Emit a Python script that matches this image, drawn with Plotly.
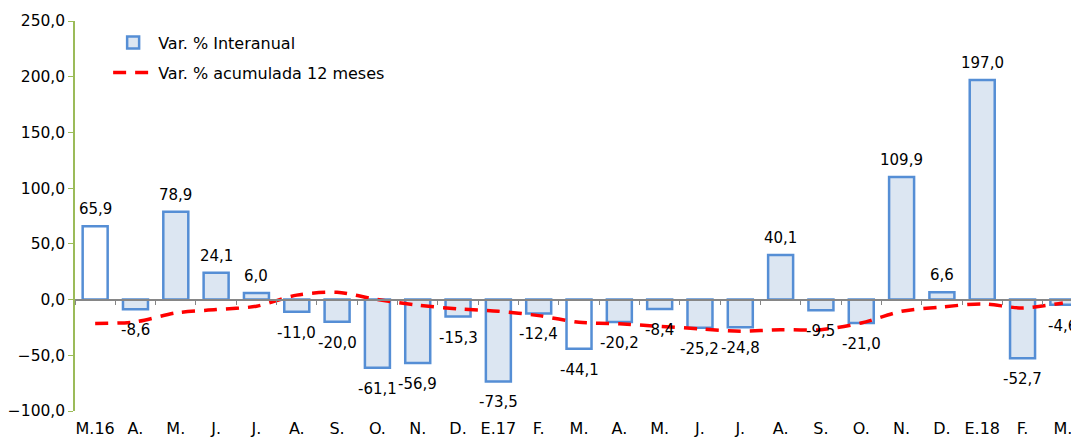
import plotly.graph_objects as go

categories = ["M.16", "A.", "M.", "J.", "J.", "A.", "S.", "O.", "N.", "D.", "E.17", "F.",
              "M.", "A.", "M.", "J.", "J.", "A.", "S.", "O.", "N.", "D.", "E.18", "F.", "M."]
interanual = [65.9, -8.6, 78.9, 24.1, 6.0, -11.0, -20.0, -61.1, -56.9, -15.3, -73.5, -12.4,
              -44.1, -20.2, -8.4, -25.2, -24.8, 40.1, -9.5, -21.0, 109.9, 6.6, 197.0, -52.7, -4.6]
acumulada = [-21.5, -20.0, -12.0, -9.0, -6.0, 4.0, 6.5, 0.0, -5.0, -8.4, -10.5, -14.4,
             -20.4, -21.8, -24.0, -26.3, -28.4, -27.0, -27.0, -21.0, -10.5, -6.6, -3.9, -7.5, -3.0]
white_bars = [0, 12]
y_ticks = [-100, -50, 0, 50, 100, 150, 200, 250]

FONT = "DejaVu Sans, Liberation Sans, Arial, sans-serif"
BAR_FILL = "#dce6f2"
BAR_LINE = "#558ed5"

xs = list(range(len(categories)))
fills = ["#ffffff" if i in white_bars else BAR_FILL for i in xs]

fig = go.Figure()
fig.add_trace(go.Bar(
    x=xs, y=interanual, name="Var. % Interanual", showlegend=False,
    marker=dict(color=fills, line=dict(color=BAR_LINE, width=2.5)),
    width=0.62,
))
# legend entry for the bar series (uniform fill)
fig.add_trace(go.Bar(
    x=[None], y=[None], name="Var. % Interanual", legendgroup="a",
    marker=dict(color=BAR_FILL, line=dict(color=BAR_LINE, width=2.5)),
))
fig.add_trace(go.Scatter(
    x=xs, y=acumulada, name="Var. % acumulada 12 meses", mode="lines", legendgroup="b",
    line=dict(color="#ff0000", width=3.5, dash="13px,9px", shape="spline", smoothing=0.8),
))

for i, v in enumerate(interanual):
    fig.add_annotation(
        x=i, y=v, text=f"{v:.1f}".replace(".", ","), showarrow=False,
        yshift=17 if v >= 0 else -21,
        font=dict(size=15, color="#000000", family=FONT),
    )

fig.update_layout(
    width=1079, height=439,
    margin=dict(l=67, r=8, t=13, b=36),
    paper_bgcolor="white", plot_bgcolor="white",
    font=dict(family=FONT, size=16, color="#000000"),
    separators=", ",
    barmode="overlay",
    showlegend=True,
    legend=dict(x=0.033, y=0.988, xanchor="left", yanchor="top",
                bgcolor="rgba(0,0,0,0)", font=dict(size=16), tracegroupgap=6,
                itemwidth=40),
    xaxis=dict(
        range=[-0.5, 24.4], tickmode="array", tickvals=xs, ticktext=categories,
        showgrid=False, zeroline=False, showline=False, ticks="",
        tickfont=dict(size=16), fixedrange=True, automargin=False,
        ticklabelstandoff=6,
    ),
    xaxis2=dict(
        range=[-0.5, 24.4], overlaying="x", anchor="free", position=100 / 350,
        side="bottom", showline=True, linecolor="#868686", linewidth=1.5,
        ticks="outside", ticklen=5, tickcolor="#868686", tickwidth=1.3,
        tickvals=[i + 0.5 for i in xs[:-1]] + [-0.5], showticklabels=False,
        showgrid=False, zeroline=False, automargin=False,
    ),
    yaxis=dict(
        range=[-100, 250], tickvals=y_ticks, tickformat=".1f",
        showgrid=False, zeroline=False, showline=True, linecolor="#9bbb59",
        linewidth=1.5, ticks="outside", ticklen=5, tickcolor="#9bbb59",
        tickfont=dict(size=15.5), automargin=False,
    ),
)
# invisible trace to activate xaxis2
fig.add_trace(go.Scatter(x=[0], y=[0], xaxis="x2", mode="markers",
                         marker=dict(opacity=0), showlegend=False, hoverinfo="skip"))

fig.write_html("out.html")
